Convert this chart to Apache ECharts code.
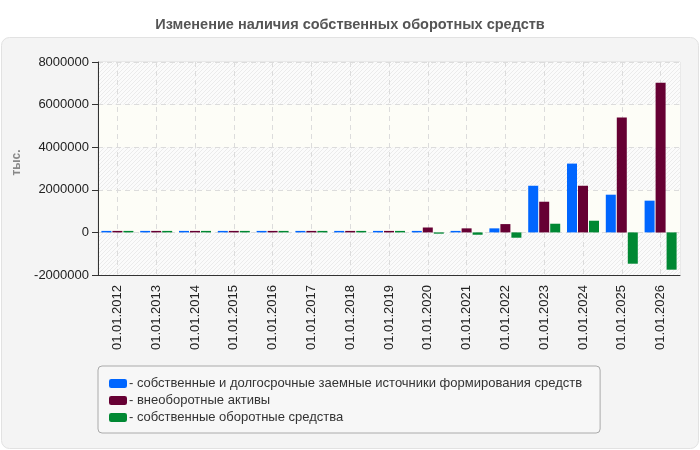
<!DOCTYPE html>
<html>
<head>
<meta charset="utf-8">
<script src="https://cdn.jsdelivr.net/npm/echarts@6/dist/echarts.min.js"></script>
<style>
  html, body { margin: 0; padding: 0; background: #fff; }
  #main { width: 700px; height: 450px; }
</style>
</head>
<body>
<div id="main"></div>
<script>
const dates = ['01.01.2012', '01.01.2013', '01.01.2014', '01.01.2015', '01.01.2016',
  '01.01.2017', '01.01.2018', '01.01.2019', '01.01.2020', '01.01.2021',
  '01.01.2022', '01.01.2023', '01.01.2024', '01.01.2025', '01.01.2026']

const ownAndLongTerm = [70000, 70000, 70000, 70000, 70000, 70000, 70000, 70000,
  70000, 70000, 190000, 2190000, 3230000, 1770000, 1490000]
const nonCurrentAssets = [70000, 70000, 70000, 70000, 70000, 70000, 70000, 70000,
  230000, 190000, 390000, 1440000, 2190000, 5390000, 7030000]
const ownWorkingCapital = [70000, 70000, 70000, 70000, 70000, 70000, 70000, 70000,
  -60000, -110000, -250000, 407000, 548000, -1470000, -1750000]

const yTicks = { min: -2000000, max: 8000000, step: 2000000 }

const seriesNames = [
  'собственные и долгосрочные заемные источники формирования средств',
  'внеоборотные активы',
  'собственные оборотные средства'
]
const colors = ['#0066ff', '#660033', '#008833']

// half-step points, used only to put the vertical grid lines on category centres
const halfSteps = []
for (let i = 0; i <= dates.length * 2; i++) halfSteps.push(i)

// small diagonal hatch tile for the plot background bands
const hatch = document.createElement('canvas')
hatch.width = 4
hatch.height = 4
const hctx = hatch.getContext('2d')
hctx.fillStyle = '#fbfbfb'
hctx.fillRect(0, 0, 4, 4)
hctx.fillStyle = '#ebebeb'
for (let i = 0; i < 4; i++) hctx.fillRect(3 - i, i, 1, 1)

const chart = echarts.init(document.getElementById('main'))

const barSeries = (name, data, color) => ({
  name: name,
  type: 'bar',
  data: data,
  barWidth: 10,
  barGap: '10%',
  itemStyle: { color: color }
})

const option = {
  backgroundColor: '#fff',
  animation: false,
  textStyle: { fontFamily: 'Liberation Sans, Arial, sans-serif' },
  graphic: [
    {
      type: 'rect',
      z: -10,
      silent: true,
      shape: { x: 1.5, y: 37.5, width: 697, height: 411, r: 8 },
      style: { fill: '#f4f4f4', stroke: '#e2e2e2', lineWidth: 1 }
    }
  ],
  title: {
    text: 'Изменение наличия собственных оборотных средств',
    left: 'center',
    top: 12,
    textStyle: { fontSize: 14.5, fontWeight: 'bold', color: '#555' }
  },
  color: colors,
  legend: {
    orient: 'vertical',
    left: 98,
    top: 366,
    padding: [11, 18, 9, 11],
    itemGap: 4,
    itemWidth: 18,
    itemHeight: 9,
    backgroundColor: '#f7f7f7',
    borderColor: '#aaa',
    borderWidth: 1,
    borderRadius: 4,
    formatter: '- {name}',
    textStyle: { fontSize: 13, color: '#333', padding: [0, 0, 0, -3] },
    data: seriesNames
  },
  grid: {
    left: 98,
    right: 20,
    top: 62,
    bottom: 175,
    show: true,
    borderColor: '#dddddd',
    borderWidth: 1,
    backgroundColor: 'transparent'
  },
  xAxis: [
    {
      type: 'category',
      data: dates,
      axisLine: { onZero: false, lineStyle: { color: '#333' } },
      axisTick: { alignWithLabel: true, length: 6, lineStyle: { color: '#333' } },
      axisLabel: { rotate: 90, fontSize: 13, color: '#222', margin: 10 },
      splitLine: { show: false }
    },
    {
      type: 'category',
      data: halfSteps,
      boundaryGap: false,
      position: 'bottom',
      axisLine: { show: false },
      axisTick: { show: false },
      axisLabel: { show: false },
      splitLine: {
        show: true,
        interval: (i) => i % 2 === 1,
        lineStyle: { color: '#dcdcdc', type: [5, 4] }
      }
    }
  ],
  yAxis: {
    type: 'value',
    min: yTicks.min,
    max: yTicks.max,
    interval: yTicks.step,
    name: 'тыс.',
    nameLocation: 'middle',
    nameGap: 75,
    nameRotate: 90,
    nameTextStyle: { fontSize: 12, fontWeight: 'bold', color: '#888', padding: [0, 0, 0, 12] },
    axisLine: { show: true, lineStyle: { color: '#333' } },
    axisTick: { show: true, length: 6, lineStyle: { color: '#333' } },
    axisLabel: { fontSize: 13, color: '#222', margin: 9, formatter: (v) => String(v) },
    splitLine: { lineStyle: { color: '#dcdcdc', type: [5, 4] } },
    splitArea: {
      show: true,
      areaStyle: { color: [{ image: hatch, repeat: 'repeat' }, '#fdfdf7'] }
    }
  },
  series: [
    barSeries(seriesNames[0], ownAndLongTerm, colors[0]),
    barSeries(seriesNames[1], nonCurrentAssets, colors[1]),
    barSeries(seriesNames[2], ownWorkingCapital, colors[2])
  ]
}

chart.setOption(option)
</script>
</body>
</html>
